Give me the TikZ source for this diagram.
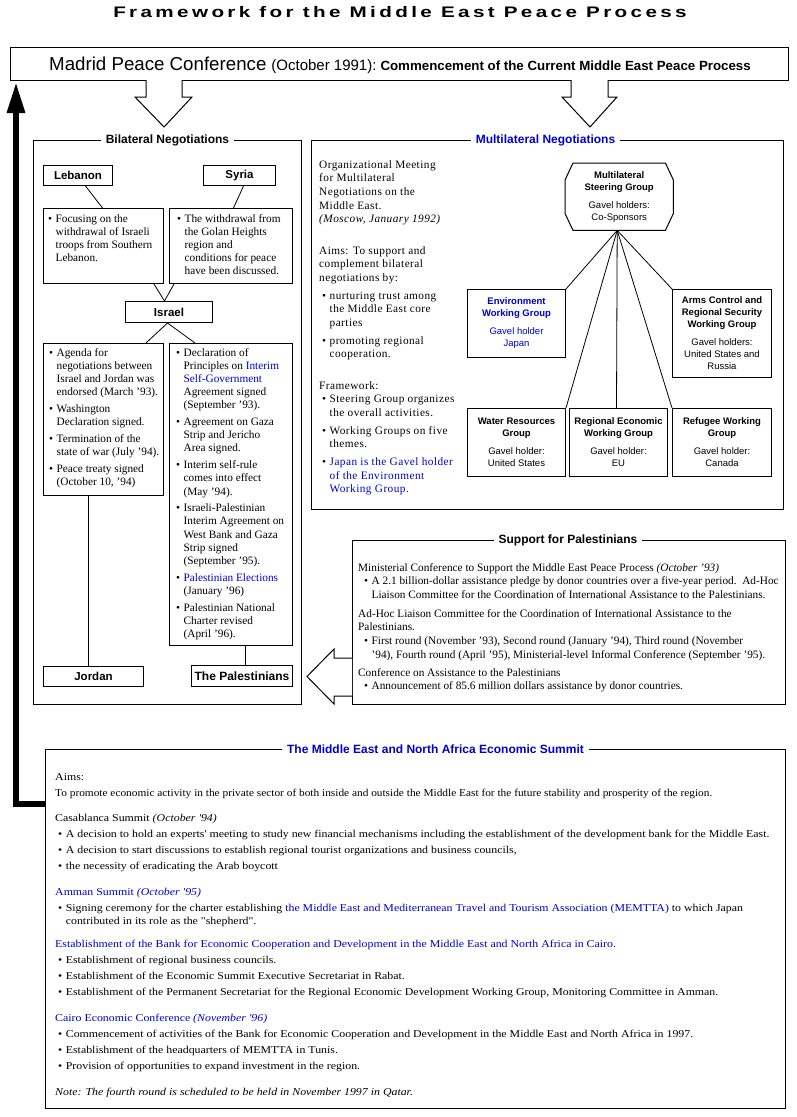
\documentclass[tikz,border=0pt]{standalone}
\usepackage{fontspec}
\setmainfont{Liberation Serif}
\newfontfamily\sansf{Liberation Sans}
\newfontfamily\titlef[FakeStretch=1.35,LetterSpace=22]{Liberation Sans}
\newfontfamily\wserif[LetterSpace=4]{Liberation Serif}
\newfontfamily\sumf[FakeStretch=1.13]{Liberation Serif}
\newfontfamily\sumn[FakeStretch=1.08]{Liberation Serif}
\usetikzlibrary{arrows.meta}
\definecolor{lnk}{RGB}{0,0,204}
\newcommand\bu{\textbullet\hspace{3.5pt}}
\newcommand\ii{\hphantom{\textbullet\hspace{3.5pt}}}
\newcommand\bl[1]{\textcolor{lnk}{#1}}
\newcommand\tl[1]{\begin{tabular}[t]{@{}l@{}}#1\end{tabular}}
\begin{document}
\begin{tikzpicture}[x=1pt,y=-1pt,
  frame/.style={draw,line width=1pt,inner sep=0pt,anchor=north west},
  ttl/.style={fill=white,inner xsep=5pt,inner ysep=1pt,font=\sansf\bfseries\fontsize{12}{14}\selectfont},
  lab/.style={draw,line width=1pt,inner sep=0pt,anchor=north west,font=\sansf\bfseries\fontsize{11.5}{13}\selectfont},
  tbox/.style={draw,line width=1pt,inner sep=0pt,anchor=north west},
  txt/.style={anchor=base west,inner sep=0pt},
  bil/.style={txt,font=\fontsize{11.3}{13.2}\selectfont},
  mul/.style={txt,font=\wserif\fontsize{11.3}{13.7}\selectfont},
  wg/.style={draw,line width=1pt,inner sep=0pt,anchor=north west,minimum width=98pt,align=center,font=\sansf\fontsize{9.5}{12}\selectfont},
  conn/.style={line width=0.8pt},
  hollow/.style={draw,line width=1pt,fill=white,line join=miter}
]
\useasboundingbox (0,0) rectangle (797,1117);

% title
\node[anchor=base,inner sep=0pt,font=\titlef\bfseries\fontsize{15.3}{18}\selectfont] (title) at (400,17) {Framework for the Middle East Peace Process};

% Madrid box
\node[frame,minimum width=778pt,minimum height=33pt] (madrid) at (10,47) {};
\node[anchor=base,inner sep=0pt,font=\sansf] (madridtxt) at (400,70) {{\fontsize{18.7}{20}\selectfont Madrid Peace Conference}\hspace{5pt}{\fontsize{15}{16}\selectfont (October 1991):}\hspace{4pt}{\bfseries\fontsize{13.3}{15}\selectfont Commencement of the Current Middle East Peace Process}};

% hollow arrows from Madrid
\draw[hollow] (146,80) -- (146,97) -- (135,97) -- (164,127) -- (192,97) -- (182,97) -- (182,80);
\draw[hollow] (571,80) -- (571,97) -- (562,97) -- (590,127) -- (617,97) -- (608,97) -- (608,80);

% frames
\node[frame,minimum width=268pt,minimum height=564pt] (bilat) at (33,140) {};
\node[ttl] (bilt) at (bilat.north) {Bilateral Negotiations};
\node[frame,minimum width=472pt,minimum height=369pt] (multi) at (311,140) {};
\node[ttl,text=lnk] (multt) at ([xshift=-2pt]multi.north) {Multilateral Negotiations};
\node[frame,minimum width=433pt,minimum height=164pt] (supp) at (352,540) {};
\node[ttl] (suppt) at ([xshift=-1pt]supp.north) {Support for Palestinians};
\node[frame,minimum width=740pt,minimum height=359pt] (summit) at (45,749) {};
\node[ttl,text=lnk] (summitt) at ([xshift=20pt]summit.north) {The Middle East and North Africa Economic Summit};

% thick return arrow
\coordinate (uptip) at (16,82);
\draw[line width=6pt,line join=miter,-{Triangle[length=31pt,width=17pt]}] ([yshift=-55pt]summit.north west) -| (uptip);

% support hollow arrow
\draw[hollow] (352,658) -- (334,658) -- (334,649) -- (307,676.5) -- (334,704) -- (334,696) -- (352,696);

% ---------- Bilateral ----------
\node[lab,minimum width=69pt,minimum height=20pt] (leb) at (43,165) {Lebanon};
\node[lab,minimum width=72pt,minimum height=20pt] (syr) at (203,165) {Syria};
\node[tbox,minimum width=120pt,minimum height=75pt] (lebt) at (43,208) {};
\node[tbox,minimum width=123pt,minimum height=75pt] (syrt) at (169,208) {};
\node[lab,minimum width=87pt,minimum height=21pt] (isr) at (125,301) {Israel};
\node[tbox,minimum width=120pt,minimum height=152pt] (jort) at (43,343) {};
\node[tbox,minimum width=123pt,minimum height=302pt] (palt) at (169,343) {};
\node[lab,minimum width=100pt,minimum height=20pt] (jor) at (43,666) {Jordan};
\node[lab,minimum width=101pt,minimum height=21pt,font=\sansf\bfseries\fontsize{12}{14}\selectfont] (pal) at (191,665) {The Palestinians};

\node[bil] (lebx) at (48,222) {\tl{\bu Focusing on the\\\ii withdrawal of Israeli\\\ii troops from Southern\\\ii Lebanon.}};
\node[bil] (syrx) at (177,222) {\tl{\bu The withdrawal from\\\ii the Golan Heights\\\ii region and\\\ii conditions for peace\\\ii have been discussed.}};
\node[bil] (jorx) at (49,356) {\tl{\bu Agenda for\\\ii negotiations between\\\ii Israel and Jordan was\\\ii endorsed (March '93).\\[3.5pt]
\bu Washington\\\ii Declaration signed.\\[3.5pt]
\bu Termination of the\\\ii state of war (July '94).\\[3.5pt]
\bu Peace treaty signed\\\ii (October 10, '94)}};
\node[bil] (palx) at (176,356) {\tl{\bu Declaration of\\\ii Principles on \bl{Interim}\\\ii \bl{Self-Government}\\\ii Agreement signed\\\ii (September '93).\\[3.5pt]
\bu Agreement on Gaza\\\ii Strip and Jericho\\\ii Area signed.\\[3.5pt]
\bu Interim self-rule\\\ii comes into effect\\\ii (May '94).\\[3.5pt]
\bu Israeli-Palestinian\\\ii Interim Agreement on\\\ii West Bank and Gaza\\\ii Strip signed\\\ii (September '95).\\[3.5pt]
\bu \bl{Palestinian Elections}\\\ii (January '96)\\[3.5pt]
\bu Palestinian National\\\ii Charter revised\\\ii (April '96).}};

\draw[conn] ([xshift=7.5pt]leb.south) -- ([xshift=-1pt]lebt.north);
\draw[conn] ([xshift=4pt]syr.south) -- ([xshift=2.5pt]syrt.north);
\draw[conn] ([xshift=-10pt]lebt.south east) -- ([xshift=-4.5pt]isr.north);
\draw[conn] ([xshift=5pt]syrt.south west) -- ([xshift=-4.5pt]isr.north);
\draw[conn] ([xshift=-1.5pt]isr.south) -- ([xshift=-18pt]jort.north east);
\draw[conn] ([xshift=-1.5pt]isr.south) -- ([xshift=26pt]palt.north west);
\draw[conn] ([xshift=-15pt]jort.south) -- ([xshift=-5pt]jor.north);
\draw[conn] ([xshift=14.5pt]palt.south) -- ([xshift=3.5pt]pal.north);

% ---------- Multilateral ----------
\node[mul] (mul1) at (319,168) {\tl{Organizational Meeting\\for Multilateral\\Negotiations on the\\Middle East.\\\textit{(Moscow, January 1992)}}};
\node[mul] (mul2) at (319,254) {\tl{Aims: To support and\\complement bilateral\\negotiations by:\\[4pt]
\hspace*{3pt}\bu nurturing trust among\\\hspace*{3pt}\ii the Middle East core\\\hspace*{3pt}\ii parties\\[4pt]
\hspace*{3pt}\bu promoting regional\\\hspace*{3pt}\ii cooperation.}};
\node[mul] (mul3) at (319,389) {\tl{Framework:\\
\hspace*{3pt}\bu Steering Group organizes\\\hspace*{3pt}\ii the overall activities.\\[4pt]
\hspace*{3pt}\bu Working Groups on five\\\hspace*{3pt}\ii themes.\\[4pt]
\hspace*{3pt}\bu \bl{Japan is the Gavel holder}\\\hspace*{3pt}\ii \bl{of the Environment}\\\hspace*{3pt}\ii \bl{Working Group.}}};

\node[anchor=north west,inner sep=0pt,minimum width=108pt,minimum height=67pt,align=center,font=\sansf\fontsize{9.5}{12}\selectfont] (steer) at (565,163) {\textbf{Multilateral}\\\textbf{Steering Group}\\[6pt]Gavel holders:\\Co-Sponsors};
\draw[line width=1pt,line join=miter] ([xshift=8pt]steer.north west) -- ([xshift=-8pt]steer.north east) -- ([yshift=-17pt]steer.north east) -- ([yshift=17pt]steer.south east) -- ([xshift=-8pt]steer.south east) -- ([xshift=8pt]steer.south west) -- ([yshift=17pt]steer.south west) -- ([yshift=-17pt]steer.north west) -- cycle;

\node[wg,minimum height=68pt,text=lnk] (env) at (467,289) {\textbf{Environment}\\\textbf{Working Group}\\[6pt]Gavel holder\\Japan};
\node[wg,minimum width=99pt,minimum height=88pt] (arms) at (672,289) {\textbf{Arms Control and}\\\textbf{Regional Security}\\\textbf{Working Group}\\[6pt]Gavel holders:\\United States and\\Russia};
\node[wg,minimum height=68pt] (wat) at (467,408) {\textbf{Water Resources}\\\textbf{Group}\\[6pt]Gavel holder:\\United States};
\node[wg,minimum height=68pt] (reg) at (569,408) {\textbf{Regional Economic}\\\textbf{Working Group}\\[6pt]Gavel holder:\\EU};
\node[wg,minimum width=99pt,minimum height=68pt] (refg) at (672,408) {\textbf{Refugee Working}\\\textbf{Group}\\[6pt]Gavel holder:\\Canada};

\draw[conn] ([xshift=-2pt]steer.south) -- (env.north east);
\draw[conn] ([xshift=-2pt]steer.south) -- (arms.north west);
\draw[conn] ([xshift=-2pt]steer.south) -- (wat.north east);
\draw[conn] ([xshift=-2pt]steer.south) -- ([xshift=-2pt]reg.north);
\draw[conn] ([xshift=-2pt]steer.south) -- (refg.north west);

% ---------- Support ----------
\node[txt,font=\fontsize{11.3}{13.5}\selectfont] (suppx) at (358,571) {\tl{Ministerial Conference to Support the Middle East Peace Process \textit{(October '93)}\\
\hspace*{6pt}\bu A 2.1 billion-dollar assistance pledge by donor countries over a five-year period.\ \ Ad-Hoc\\
\hspace*{6pt}\ii Liaison Committee for the Coordination of International Assistance to the Palestinians.\\[5.5pt]
Ad-Hoc Liaison Committee for the Coordination of International Assistance to the\\
Palestinians.\\[0.5pt]
\hspace*{6pt}\bu First round (November '93), Second round (January '94), Third round (November\\
\hspace*{6pt}\ii '94), Fourth round (April '95), Ministerial-level Informal Conference (September '95).\\[4.5pt]
Conference on Assistance to the Palestinians\\
\hspace*{6pt}\bu Announcement of 85.6 million dollars assistance by donor countries.}};

% ---------- Summit ----------
\node[txt,font=\sumf\fontsize{10.5}{13}\selectfont] (sumx) at (55,780) {\tl{Aims:\\[3pt]
{\sumn To promote economic activity in the private sector of both inside and outside the Middle East for the future stability and prosperity of the region.}\\[12pt]
Casablanca Summit \textit{(October '94)}\\[3pt]
\hspace*{3pt}\bu A decision to hold an experts' meeting to study new financial mechanisms including the establishment of the development bank for the Middle East.\\[3pt]
\hspace*{3pt}\bu A decision to start discussions to establish regional tourist organizations and business councils,\\[3pt]
\hspace*{3pt}\bu the necessity of eradicating the Arab boycott\\[13pt]
\bl{Amman Summit \textit{(October '95)}}\\[3pt]
\hspace*{3pt}\bu Signing ceremony for the charter establishing \bl{the Middle East and Mediterranean Travel and Tourism Association (MEMTTA)} to which Japan\\
\hspace*{3pt}\ii contributed in its role as the "shepherd".\\[10pt]
\bl{Establishment of the Bank for Economic Cooperation and Development in the Middle East and North Africa in Cairo.}\\[3pt]
\hspace*{3pt}\bu Establishment of regional business councils.\\[3pt]
\hspace*{3pt}\bu Establishment of the Economic Summit Executive Secretariat in Rabat.\\[3pt]
\hspace*{3pt}\bu Establishment of the Permanent Secretariat for the Regional Economic Development Working Group, Monitoring Committee in Amman.\\[13pt]
\bl{Cairo Economic Conference \textit{(November '96)}}\\[3pt]
\hspace*{3pt}\bu Commencement of activities of the Bank for Economic Cooperation and Development in the Middle East and North Africa in 1997.\\[3pt]
\hspace*{3pt}\bu Establishment of the headquarters of MEMTTA in Tunis.\\[3pt]
\hspace*{3pt}\bu Provision of opportunities to expand investment in the region.\\[13pt]
\textit{Note: The fourth round is scheduled to be held in November 1997 in Qatar.}}};
\end{tikzpicture}
\end{document}
